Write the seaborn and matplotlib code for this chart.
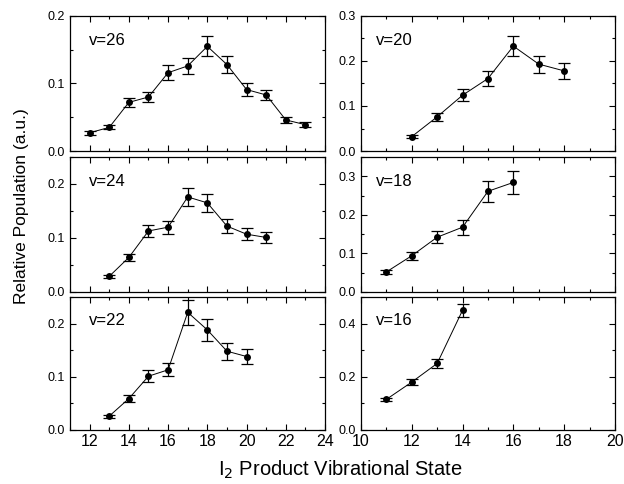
import numpy as np
import pandas as pd
import matplotlib
matplotlib.use("Agg")
import matplotlib.pyplot as plt
from matplotlib.ticker import MultipleLocator
import seaborn as sns

# Vibrational state populations, one panel per initial v
v26_x = [12, 13, 14, 15, 16, 17, 18, 19, 20, 21, 22, 23]
v26_y = [0.027, 0.035, 0.072, 0.080, 0.116, 0.126, 0.155, 0.128, 0.091, 0.083, 0.046, 0.039]
v26_e = [0.003, 0.003, 0.007, 0.008, 0.011, 0.012, 0.015, 0.012, 0.009, 0.008, 0.004, 0.004]

v24_x = [13, 14, 15, 16, 17, 18, 19, 20, 21]
v24_y = [0.029, 0.064, 0.113, 0.120, 0.176, 0.165, 0.122, 0.107, 0.101]
v24_e = [0.003, 0.007, 0.011, 0.012, 0.017, 0.017, 0.013, 0.011, 0.011]

v22_x = [13, 14, 15, 16, 17, 18, 19, 20]
v22_y = [0.026, 0.059, 0.101, 0.113, 0.221, 0.188, 0.148, 0.138]
v22_e = [0.003, 0.006, 0.011, 0.012, 0.023, 0.020, 0.016, 0.014]

v20_x = [12, 13, 14, 15, 16, 17, 18]
v20_y = [0.032, 0.076, 0.124, 0.161, 0.233, 0.193, 0.178]
v20_e = [0.003, 0.009, 0.013, 0.017, 0.023, 0.019, 0.018]

v18_x = [11, 12, 13, 14, 15, 16]
v18_y = [0.052, 0.094, 0.142, 0.168, 0.261, 0.284]
v18_e = [0.005, 0.010, 0.016, 0.019, 0.027, 0.030]

v16_x = [11, 12, 13, 14]
v16_y = [0.115, 0.180, 0.250, 0.450]
v16_e = [0.006, 0.012, 0.017, 0.025]

panels = [
    # label, x, y, err, col, row, ylim, ymajor, yminor
    ('v=26', v26_x, v26_y, v26_e, 0, 0, 0.20, 0.1, 0.05),
    ('v=24', v24_x, v24_y, v24_e, 0, 1, 0.25, 0.1, 0.05),
    ('v=22', v22_x, v22_y, v22_e, 0, 2, 0.25, 0.1, 0.05),
    ('v=20', v20_x, v20_y, v20_e, 1, 0, 0.30, 0.1, 0.05),
    ('v=18', v18_x, v18_y, v18_e, 1, 1, 0.35, 0.1, 0.05),
    ('v=16', v16_x, v16_y, v16_e, 1, 2, 0.50, 0.2, 0.1),
]

sns.set_style("ticks", {'axes.edgecolor': 'black', 'text.color': 'black',
                        'xtick.color': 'black', 'ytick.color': 'black',
                        'axes.labelcolor': 'black'})
plt.rcParams['font.family'] = ['Liberation Sans', 'DejaVu Sans']
plt.rcParams['axes.linewidth'] = 0.9

fig = plt.figure(figsize=(6.24, 4.84), dpi=100)

col_left = [0.1122, 0.5785]
col_width = [0.4087, 0.407]
row_bottom = [0.688, 0.3967, 0.1116]
row_height = [0.279, 0.279, 0.275]
xlims = [(11, 24), (10, 20)]

for label, xs, ys, es, c, r, ytop, ymaj, ymin in panels:
    ax = fig.add_axes([col_left[c], row_bottom[r], col_width[c], row_height[r]])
    df = pd.DataFrame({'state': xs, 'pop': ys, 'err': es})
    sns.lineplot(data=df, x='state', y='pop', ax=ax, color='black', lw=0.7,
                 marker='o', markersize=5, markeredgewidth=0)
    ax.errorbar(df['state'], df['pop'], yerr=df['err'], fmt='none',
                ecolor='black', elinewidth=0.9, capsize=4, capthick=0.9)
    ax.set_xlim(*xlims[c])
    ax.set_ylim(0, ytop)
    ax.xaxis.set_major_locator(MultipleLocator(2))
    ax.xaxis.set_minor_locator(MultipleLocator(1))
    ax.yaxis.set_major_locator(MultipleLocator(ymaj))
    ax.yaxis.set_minor_locator(MultipleLocator(ymin))
    ax.yaxis.set_major_formatter(plt.FormatStrFormatter('%.1f'))
    ax.tick_params(which='both', direction='in', top=True, right=True, width=0.8)
    ax.tick_params(which='major', length=4, labelsize=9)
    ax.tick_params(which='minor', length=2.5)
    ax.tick_params(axis='x', labelsize=11.5, pad=3)
    if r != 2:
        ax.tick_params(axis='x', labelbottom=False)
    ax.set_xlabel('')
    ax.set_ylabel('')
    ax.text(0.075 if c == 0 else 0.06, 0.82, label, transform=ax.transAxes,
            fontsize=12, va='center', ha='left')

fig.text(0.035, 0.574, 'Relative Population (a.u.)', rotation=90,
         fontsize=12.5, va='center', ha='center')
fig.text(0.545, 0.03, r'I$_2$ Product Vibrational State', fontsize=14.5,
         va='center', ha='center')

fig.savefig('out.png', dpi=100)
